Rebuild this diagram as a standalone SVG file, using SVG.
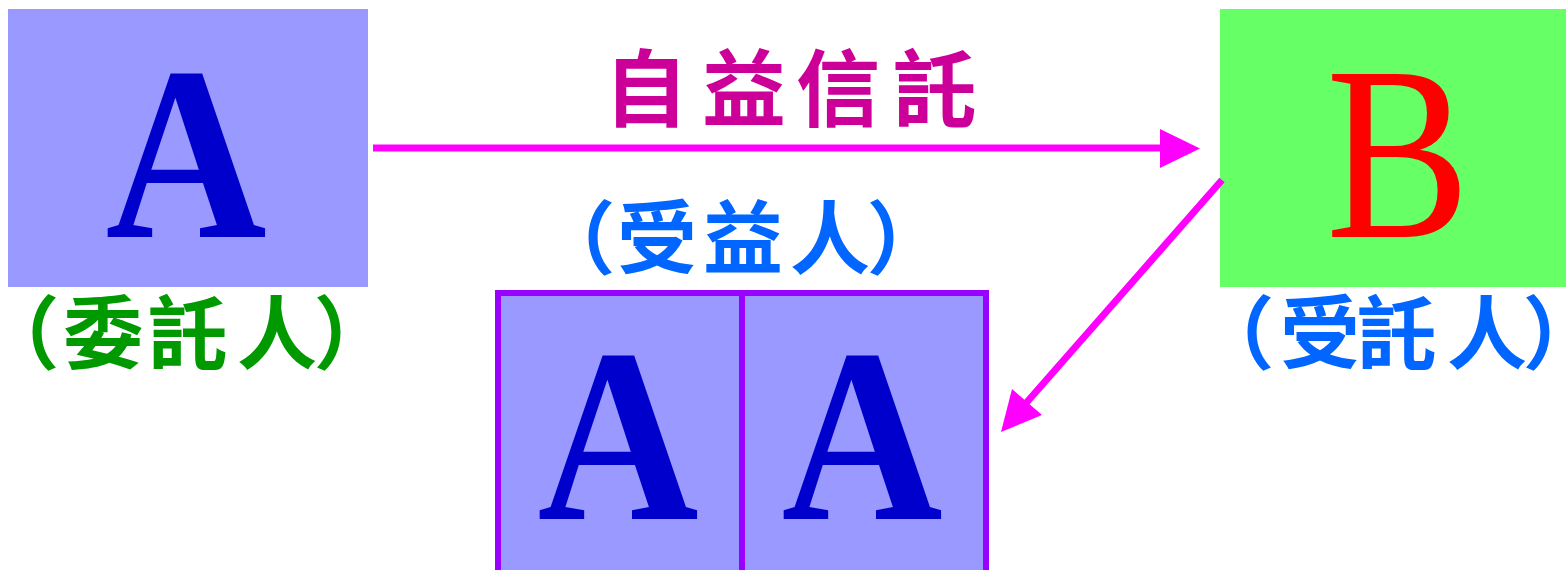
<svg xmlns="http://www.w3.org/2000/svg" width="1566" height="570" viewBox="0 0 1566 570">
<style>
.big{font-family:"Liberation Serif","Times New Roman",serif;font-weight:bold;font-size:248px;text-anchor:middle}
.cjk{font-family:"Noto Sans CJK TC","Noto Sans CJK SC",sans-serif;font-weight:bold;text-anchor:middle;font-feature-settings:"palt"}
.abox{fill:#9999ff}
.ben{fill:#9999ff;stroke:#9900ff;stroke-width:6}
.conn{stroke:#ff00ff;stroke-width:7;fill:none}
.head{fill:#ff00ff}
</style>
<rect width="1566" height="570" fill="#ffffff"/>
<g id="nodeA">
<rect class="abox" x="8" y="9" width="360" height="278"/>
<text class="big" fill="#0000cc" transform="translate(186,237) scale(0.9,1)">A</text>
<text class="cjk" fill="#009900" font-size="80" x="36 103 188 277 337" y="362">（委託人）</text>
</g>
<g id="nodeB">
<rect x="1220" y="9" width="346" height="278" fill="#66ff66"/>
<text class="big" fill="#ff0000" style="font-weight:normal" transform="translate(1398,237) scale(0.87,1)">B</text>
<text class="cjk" fill="#0066ff" font-size="80" x="1251 1320 1397 1487 1546" y="362">（受託人）</text>
</g>
<g id="beneficiary">
<rect class="ben" x="498" y="293" width="244" height="290"/>
<rect class="ben" x="742" y="293" width="244" height="290"/>
<text class="big" fill="#0000cc" transform="translate(618,519) scale(0.9,1)">A</text>
<text class="big" fill="#0000cc" transform="translate(862,519) scale(0.9,1)">A</text>
<text class="cjk" fill="#0066ff" font-size="80" x="592 657 743 830 890" y="267">（受益人）</text>
</g>
<g id="label-self">
<text class="cjk" fill="#cc0099" font-size="84" x="646 744 838 935" y="120">自益信託</text>
</g>
<g id="connectors">
<line class="conn" x1="373" y1="148" x2="1165" y2="148"/>
<polygon class="head" points="1160,129 1200,148.5 1160,168"/>
<line class="conn" x1="1222" y1="180" x2="1020" y2="410"/>
<polygon class="head" points="1001,432 1012,389 1042,415"/>
</g>
</svg>
